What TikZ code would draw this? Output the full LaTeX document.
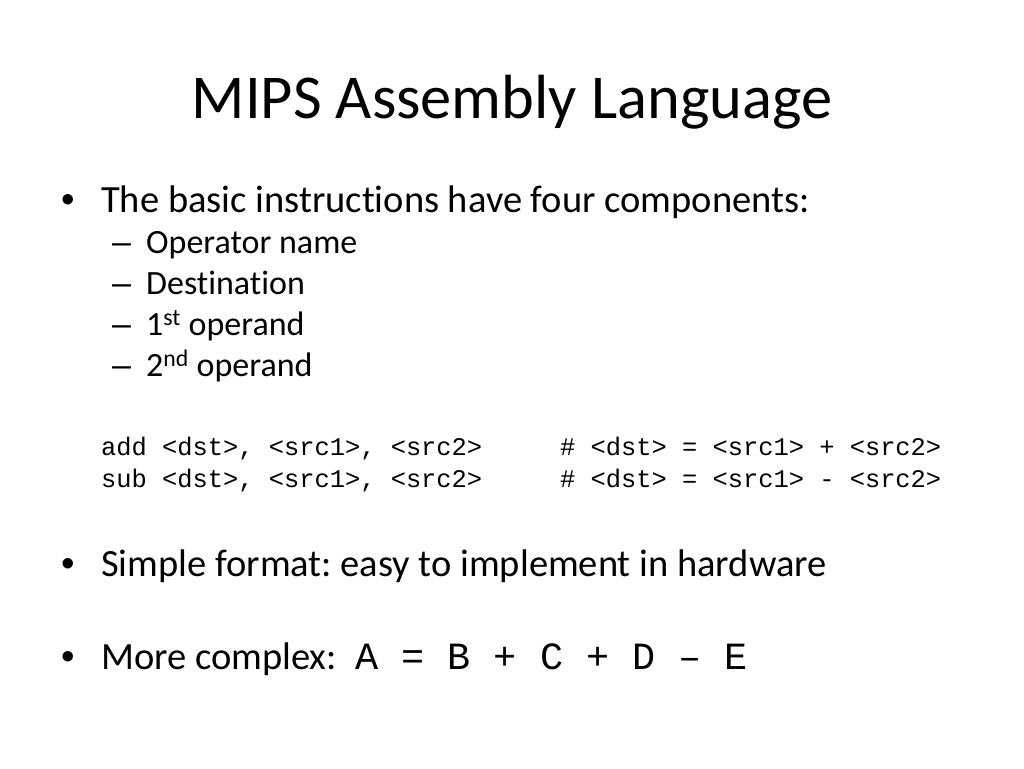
\documentclass[tikz,border=0pt]{standalone}
\usepackage{fontspec}
\setmainfont[RawFeature=-liga]{Carlito}
\setmonofont{Liberation Mono}
\newfontfamily\markfont{Liberation Sans}
\newcommand{\fsz}[1]{\fontsize{#1}{#1}\selectfont}
\frenchspacing
\begin{document}
\begin{tikzpicture}[x=1pt, y=-1pt,
  txt/.style={anchor=base west, inner sep=0pt},
  lvlone/.style={txt, font=\fsz{38.5}},
  lvltwo/.style={txt, font=\fsz{34}},
  bul/.style={txt, font=\markfont\fsz{38.5}},
  dsh/.style={txt, font=\markfont\fsz{34}},
  code/.style={txt, font=\ttfamily\fsz{25.4}}]
\useasboundingbox[fill=white] (0,0) rectangle (1024,768);
\node[anchor=base, inner sep=0pt, font=\fsz{62.4}] (title) at (512,118) {MIPS Assembly Language};

\node[bul] (b1) at (61,212) {•};
\node[lvlone] (t1) at (101,212) {The basic instructions have four components:};
\node[dsh] (d1) at (112,253) {–}; \node[lvltwo] (s1) at (146,253) {Operator name};
\node[dsh] (d2) at (112,294) {–}; \node[lvltwo] (s2) at (146,294) {Destination};
\node[dsh] (d3) at (112,335) {–}; \node[lvltwo] (s3) at (146,335) {1\textsuperscript{st} operand};
\node[dsh] (d4) at (112,376) {–}; \node[lvltwo] (s4) at (146,376) {2\textsuperscript{nd} operand};

\node[code] (add) at (101,455) {add <dst>, <src1>, <src2>};
\node[code] (addc) at (560,455) {\# <dst> = <src1> + <src2>};
\node[code] (sub) at (101,487) {sub <dst>, <src1>, <src2>};
\node[code] (subc) at (560,487) {\# <dst> = <src1> - <src2>};

\node[bul] (b2) at (61,576) {•};
\node[lvlone] (t2) at (101,576) {Simple format: easy to implement in hardware};
\node[bul] (b3) at (61,669) {•};
\node[lvlone] (t3) at (101,669) {More complex:};
\node[txt, font=\ttfamily\fsz{38.5}] (expr) at (355,669) {A = B + C + D – E};
\end{tikzpicture}
\end{document}
